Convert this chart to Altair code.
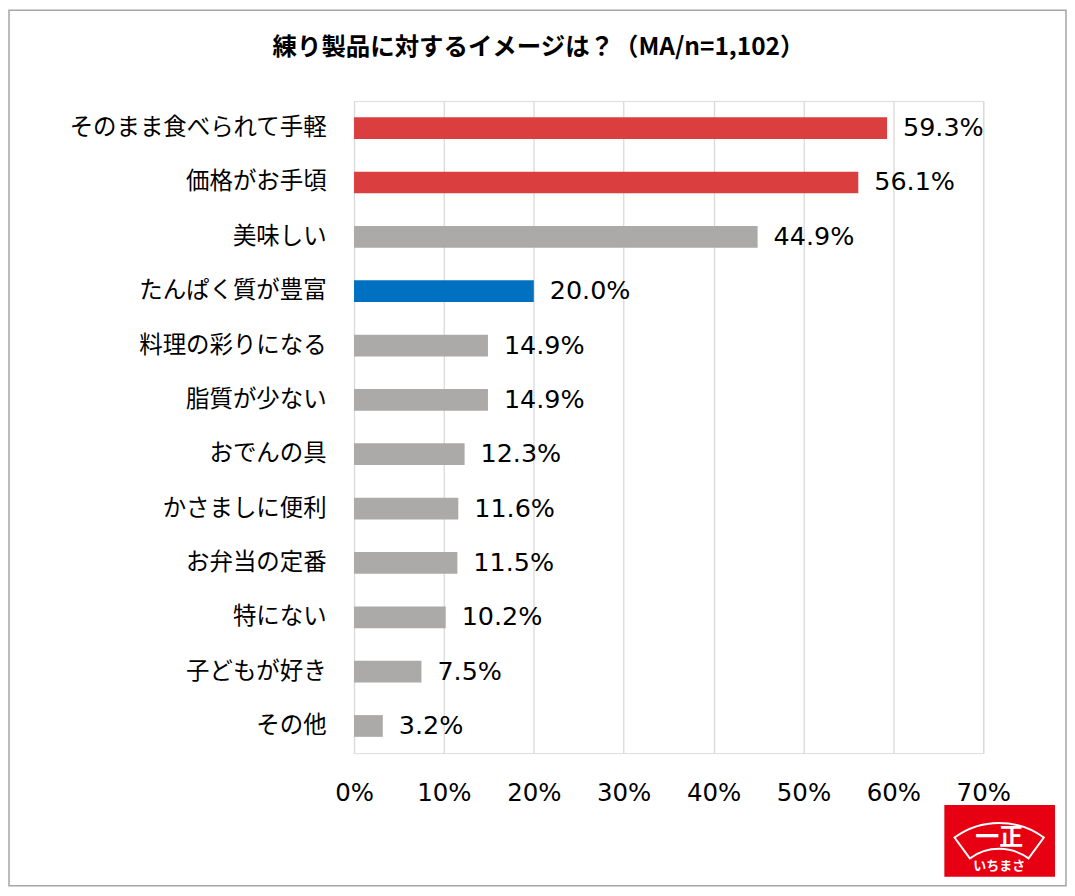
import altair as alt
import pandas as pd

items = ["そのまま食べられて手軽", "価格がお手頃", "美味しい", "たんぱく質が豊富",
         "料理の彩りになる", "脂質が少ない", "おでんの具", "かさましに便利",
         "お弁当の定番", "特にない", "子どもが好き", "その他"]
rates = [59.3, 56.1, 44.9, 20.0, 14.9, 14.9, 12.3, 11.6, 11.5, 10.2, 7.5, 3.2]
groups = ["top", "top", "other", "protein", "other", "other", "other",
          "other", "other", "other", "other", "other"]
x_ticks = [0, 10, 20, 30, 40, 50, 60, 70]

title_text = "練り製品に対するイメージは？（MA/n=1,102）"
logo_text = "いちまさ"
logo_mark = "一正"

df = pd.DataFrame({"item": items, "rate": rates, "group": groups})
one = pd.DataFrame({"k": [0]})

W, H = 1062, 880
PL, PT = 347, 92
PW, PH = 631, 654

base = alt.Chart(df)

bars = base.mark_bar().encode(
    y=alt.Y("item:N", sort=None, title=None,
            scale=alt.Scale(paddingInner=0.6, paddingOuter=0.3),
            axis=alt.Axis(labelFont="Noto Sans CJK JP", labelFontSize=23.5,
                          labelColor="#000000", labelPadding=28, ticks=False,
                          domain=False, grid=False, labelLimit=400)),
    x=alt.X("rate:Q", title=None,
            scale=alt.Scale(domain=[0, 70], nice=False),
            axis=alt.Axis(values=x_ticks, labelExpr="datum.value + '%'",
                          labelFont="DejaVu Sans", labelFontSize=24.5,
                          labelColor="#000000", labelPadding=28,
                          labelFlush=False, labelOverlap=False, labelBound=False,
                          ticks=False, domain=False, grid=True,
                          gridColor="#D9D9D9", gridWidth=1.3)),
    color=alt.Color("group:N", legend=None,
                    scale=alt.Scale(domain=["top", "protein", "other"],
                                    range=["#DA3E3E", "#0070C0", "#ABAAA8"])),
)

labels = base.transform_calculate(
    label="format(datum.rate, '.1f') + '%'"
).mark_text(align="left", baseline="middle", dx=16, font="DejaVu Sans",
            fontSize=25.5, color="#000000").encode(
    y=alt.Y("item:N", sort=None),
    x=alt.X("rate:Q"),
    text="label:N",
)

# title, frame and logo are page decorations placed in pixels
title = alt.Chart(one).mark_text(
    text=title_text, font="Noto Sans CJK JP", fontSize=24.5, fontWeight="bold",
    align="center", baseline="middle", color="#000000"
).encode(x=alt.value(185), y=alt.value(-53))

frame = alt.Chart(one).mark_rect(
    fillOpacity=0, stroke="#A6A6A6", strokeWidth=1.5
).encode(x=alt.value(-346), x2=alt.value(714), y=alt.value(-91), y2=alt.value(787))

logo_box = alt.Chart(one).mark_rect(color="#E60012").encode(
    x=alt.value(592), x2=alt.value(703), y=alt.value(706), y2=alt.value(778))

logo_fan = alt.Chart(one).mark_arc(
    theta=5.653, theta2=6.913, radius=76, radius2=50,
    fillOpacity=0, stroke="#FFFFFF", strokeWidth=2
).encode(x=alt.value(647), y=alt.value(800))

logo_sign = alt.Chart(one).mark_text(
    text=logo_mark, font="Noto Sans CJK JP", fontSize=24, fontWeight="bold",
    color="#FFFFFF", align="center", baseline="middle"
).encode(x=alt.value(647), y=alt.value(739))

logo_name = alt.Chart(one).mark_text(
    text=logo_text, font="Noto Sans CJK JP", fontSize=13, fontWeight="bold",
    color="#FFFFFF", align="center", baseline="middle"
).encode(x=alt.value(647), y=alt.value(767))

chart = alt.layer(
    bars, labels, title, frame, logo_box, logo_fan, logo_sign, logo_name
).properties(
    width=PW, height=PH,
    autosize=alt.AutoSizeParams(type="none"),
    padding={"left": PL, "top": PT, "right": W - PL - PW, "bottom": H - PT - PH},
).configure_view(stroke=None).configure(background="#FFFFFF")

chart.save("out.html", embed_options={"renderer": "svg", "actions": False})
